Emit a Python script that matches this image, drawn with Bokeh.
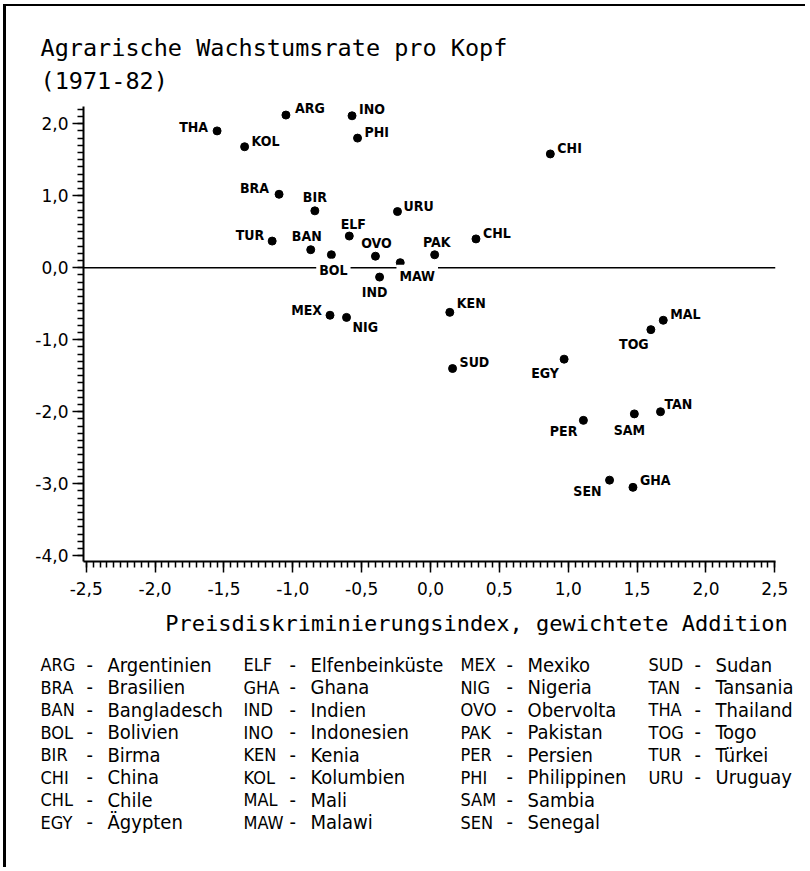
from bokeh.plotting import figure
from bokeh.layouts import column
from bokeh.models import ColumnDataSource, Label, Span, FixedTicker, Range1d, Plot
from bokeh.core.properties import value
from bokeh.embed import file_html
from bokeh.resources import INLINE

# ---------------- data ----------------
codes = ["ARG", "BRA", "BAN", "BOL", "BIR", "CHI", "CHL", "EGY", "ELF", "GHA",
         "IND", "INO", "KEN", "KOL", "MAL", "MAW", "MEX", "NIG", "OVO", "PAK",
         "PER", "PHI", "SAM", "SEN", "SUD", "TAN", "THA", "TOG", "TUR", "URU"]
price_index = [-1.05, -1.10, -0.87, -0.72, -0.84, 0.87, 0.33, 0.97, -0.59, 1.47,
               -0.37, -0.57, 0.14, -1.35, 1.69, -0.22, -0.73, -0.61, -0.40, 0.03,
               1.11, -0.53, 1.48, 1.30, 0.16, 1.67, -1.55, 1.60, -1.15, -0.24]
growth = [2.12, 1.02, 0.25, 0.18, 0.79, 1.58, 0.40, -1.27, 0.44, -3.05,
          -0.13, 2.11, -0.62, 1.68, -0.73, 0.07, -0.66, -0.69, 0.16, 0.18,
          -2.12, 1.80, -2.03, -2.95, -1.40, -2.00, 1.90, -0.86, 0.37, 0.78]

legend_codes = ["ARG", "BRA", "BAN", "BOL", "BIR", "CHI", "CHL", "EGY",
                "ELF", "GHA", "IND", "INO", "KEN", "KOL", "MAL", "MAW",
                "MEX", "NIG", "OVO", "PAK", "PER", "PHI", "SAM", "SEN",
                "SUD", "TAN", "THA", "TOG", "TUR", "URU"]
legend_names = ["Argentinien", "Brasilien", "Bangladesch", "Bolivien", "Birma", "China", "Chile", "Ägypten",
                "Elfenbeinküste", "Ghana", "Indien", "Indonesien", "Kenia", "Kolumbien", "Mali", "Malawi",
                "Mexiko", "Nigeria", "Obervolta", "Pakistan", "Persien", "Philippinen", "Sambia", "Senegal",
                "Sudan", "Tansania", "Thailand", "Togo", "Türkei", "Uruguay"]

x_ticks = [-2.5, -2.0, -1.5, -1.0, -0.5, 0.0, 0.5, 1.0, 1.5, 2.0, 2.5]
x_tick_labels = ["-2,5", "-2,0", "-1,5", "-1,0", "-0,5", "0,0", "0,5", "1,0", "1,5", "2,0", "2,5"]
y_ticks = [-4.0, -3.0, -2.0, -1.0, 0.0, 1.0, 2.0]
y_tick_labels = ["-4,0", "-3,0", "-2,0", "-1,0", "0,0", "1,0", "2,0"]

title_lines = ["Agrarische Wachstumsrate pro Kopf", "(1971-82)"]
x_label = "Preisdiskriminierungsindex, gewichtete Addition"

# ---------------- styling / placement ----------------
# label placement relative to point: (dx px, dy px downward, align)
placement = {
    "THA": (-9, -4, "right"), "KOL": (7, -6, "left"), "ARG": (9, -7, "left"),
    "INO": (7, -7, "left"), "PHI": (7, -6, "left"), "BRA": (-10, -6, "right"),
    "BIR": (0, -14, "center"), "TUR": (-8, -6, "right"), "BAN": (-4, -14, "center"),
    "BOL": (2, 15, "center"), "ELF": (4, -12, "center"), "OVO": (1, -13, "center"),
    "MAW": (17, 13, "center"), "IND": (-5, 15, "center"), "URU": (6, -6, "left"),
    "MEX": (-8, -5, "right"), "NIG": (6, 10, "left"), "CHI": (7, -6, "left"),
    "PAK": (2, -13, "center"), "CHL": (7, -6, "left"), "KEN": (7, -9, "left"),
    "MAL": (7, -6, "left"), "TOG": (-17, 14, "center"), "SUD": (7, -7, "left"),
    "EGY": (-19, 14, "center"), "PER": (-6, 11, "right"), "SAM": (-5, 16, "center"),
    "TAN": (4, -8, "left"), "SEN": (-8, 11, "right"), "GHA": (7, -7, "left"),
}
boxed = {"BOL", "MAW"}

FONT = "DejaVu Sans"
WIDE_FONT = "DejaVu Sans Mono"
LABEL_FONT = "DejaVu Sans Condensed"

GL, GT = 3, 4            # white gap before the picture border
BL, BT = 3, 2            # left / top border of the whole picture
W = 802                  # inner width of every panel
H_TOP = 92               # title panel height
ML, MR, MT, MB = 77, W - 77 - 692, 2, 40
FW, FH = 692, 463
H_BOT = 266

common = dict(output_backend="svg", toolbar_location=None)
HAS_FA = "frame_align" in Plot.properties()


def no_align(fig):
    if HAS_FA:
        fig.frame_align = False


# ---------------- title panel ----------------
top = figure(width=W, height=H_TOP, x_range=Range1d(0, W), y_range=Range1d(H_TOP, 0),
             x_axis_type=None, y_axis_type=None,
             min_border_left=0, min_border_right=0, min_border_top=0, min_border_bottom=0,
             **common)
no_align(top)
top.styles = {"margin-left": f"{GL}px", "margin-top": f"{GT}px",
              "border-left": f"{BL}px solid black", "border-top": f"{BT}px solid black"}
top.outline_line_color = None
tsrc = ColumnDataSource(dict(x=[34, 34], y=[41, 74], t=title_lines))
top.text(x="x", y="y", text="t", source=tsrc, text_font=value(WIDE_FONT),
         text_font_size="23.5px", text_align="left", text_baseline="middle", text_color="black")

# ---------------- main scatter ----------------
p = figure(width=W, height=MT + FH + MB,
           x_range=Range1d(-2.52, 2.505), y_range=Range1d(-4.08, 2.35),
           min_border_left=ML, min_border_right=MR,
           min_border_top=MT, min_border_bottom=MB, **common)
no_align(p)
p.styles = {"margin-left": f"{GL}px", "border-left": f"{BL}px solid black"}
p.outline_line_color = None
p.grid.visible = False

x_minor = [round(-2.5 + 0.05 * i, 2) for i in range(101)]
y_minor = [round(-4.0 + 0.1 * i, 1) for i in range(63)]
p.xaxis.ticker = FixedTicker(ticks=x_ticks, minor_ticks=x_minor)
p.yaxis.ticker = FixedTicker(ticks=y_ticks, minor_ticks=y_minor)
p.yaxis.bounds = (-4.08, 2.24)
p.xaxis.major_label_overrides = {t: s for t, s in zip(x_ticks, x_tick_labels)}
p.yaxis.major_label_overrides = {t: s for t, s in zip(y_ticks, y_tick_labels)}
for ax in (p.xaxis, p.yaxis):
    ax.axis_line_width = 2
    ax.axis_line_color = "black"
    ax.major_tick_line_color = "black"
    ax.minor_tick_line_color = "black"
    ax.major_tick_line_width = 1.5
    ax.minor_tick_line_width = 1.5
    ax.major_tick_in = 0
    ax.major_tick_out = 11
    ax.minor_tick_in = 0
    ax.minor_tick_out = 6
    ax.major_label_text_font = FONT
    ax.major_label_text_font_size = "17px"
    ax.major_label_text_color = "black"
p.xaxis.major_label_standoff = 9
p.yaxis.major_label_standoff = 4

p.add_layout(Span(location=0, dimension="width", line_color="black", line_width=1.5))

src = ColumnDataSource(dict(x=price_index, y=growth, code=codes))
p.scatter("x", "y", source=src, size=8, color="black")

has_padding = "padding" in Label.properties()
for c, xv, yv in zip(codes, price_index, growth):
    dx, dy, al = placement[c]
    kw = dict(x=xv, y=yv, text=c, x_offset=dx, y_offset=-dy,
              text_align=al, text_baseline="middle",
              text_font=LABEL_FONT, text_font_style="bold",
              text_font_size="14px", text_color="black")
    if c in boxed:
        kw["background_fill_color"] = "white"
        if has_padding:
            kw["padding"] = 3
    p.add_layout(Label(**kw))

# ---------------- x label + legend panel ----------------
bot = figure(width=W, height=H_BOT, x_range=Range1d(0, W), y_range=Range1d(H_BOT, 0),
             x_axis_type=None, y_axis_type=None,
             min_border_left=0, min_border_right=0, min_border_top=0, min_border_bottom=0,
             **common)
no_align(bot)
bot.styles = {"margin-left": f"{GL}px", "border-left": f"{BL}px solid black"}
bot.outline_line_color = None
bot.text(x=[470], y=[22], text=[x_label], text_font=value(WIDE_FONT),
         text_font_size="22px", text_align="center", text_baseline="middle", text_color="black")

col_x = [34, 237, 454, 642]
row_y0, row_dy = 63, 22.5
ax_, ay_, dx_, nx_ = [], [], [], []
for i in range(len(legend_codes)):
    col, row = divmod(i, 8)
    ax_.append(col_x[col])
    ay_.append(row_y0 + row_dy * row)
    dx_.append(col_x[col] + 46)
    nx_.append(col_x[col] + 67)
leg = ColumnDataSource(dict(ax=ax_, ay=ay_, dx=dx_, nx=nx_, code=legend_codes,
                            dash=["-"] * len(legend_codes), name=legend_names))
for xcol, tcol, fs in (("ax", "code", "18px"), ("dx", "dash", "20px"), ("nx", "name", "20px")):
    bot.text(x=xcol, y="ay", text=tcol, source=leg,
             text_align="left", text_baseline="middle",
             text_font=value(LABEL_FONT), text_font_size=fs, text_color="black")

layout = column(top, p, bot, spacing=0)
open("out.html", "w").write(file_html(layout, INLINE))
